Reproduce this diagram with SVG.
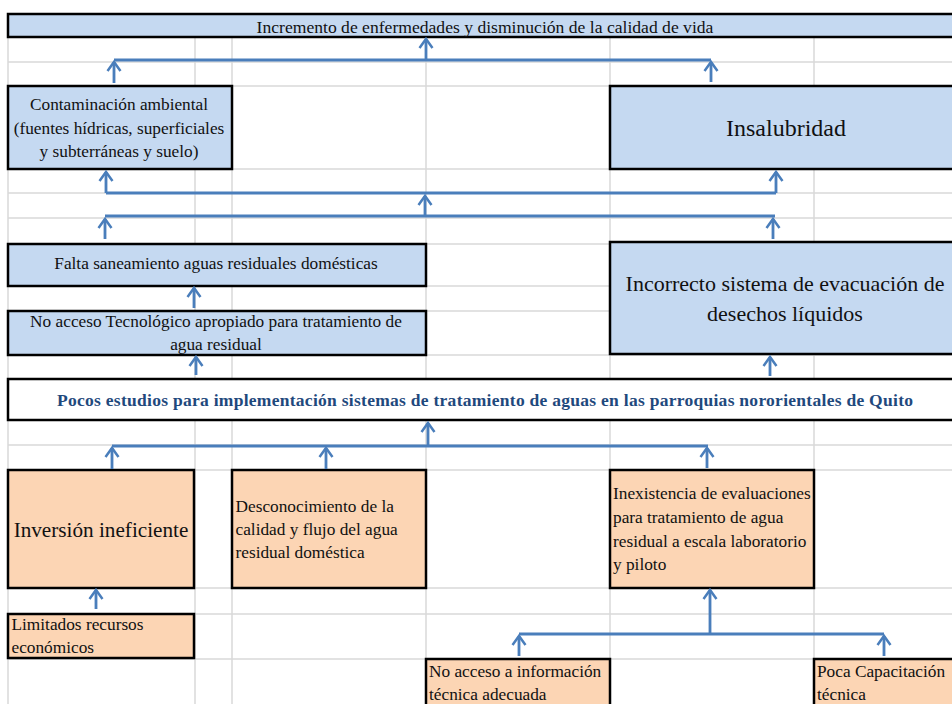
<svg xmlns="http://www.w3.org/2000/svg" width="952" height="704" viewBox="0 0 952 704">
<defs>
<style>
.grid line{stroke:#D9D9D9;stroke-width:1.5}
.blue{fill:#C5D9F1;stroke:#000;stroke-width:2.5}
.peach{fill:#FCD5B4;stroke:#000;stroke-width:2.5}
.white{fill:#FFFFFF;stroke:#000;stroke-width:2.5}
.c{text-anchor:middle}
.t17{font-size:17.3px}
.conn path{fill:none;stroke:#4A7EBB;stroke-width:2.8;marker-end:url(#ah)}
.conn line{stroke:#4A7EBB;stroke-width:2.8}
</style>
<marker id="ah" markerUnits="userSpaceOnUse" markerWidth="24" markerHeight="24" viewBox="-12 -12 24 24" refX="0" refY="0" orient="auto" overflow="visible">
<path d="M-9,-6.5 L0,0 L-9,6.5" fill="none" stroke="#4A7EBB" stroke-width="2.5"/>
</marker>
</defs>
<rect width="952" height="704" fill="#FFFFFF"/>
<g class="grid">
<line x1="8" y1="14" x2="8" y2="704"/>
<line x1="195" y1="14" x2="195" y2="704"/>
<line x1="232" y1="14" x2="232" y2="704"/>
<line x1="426" y1="14" x2="426" y2="704"/>
<line x1="610" y1="14" x2="610" y2="704"/>
<line x1="814" y1="14" x2="814" y2="704"/>
<line x1="8" y1="14" x2="952" y2="14"/>
<line x1="8" y1="37" x2="952" y2="37"/>
<line x1="8" y1="62" x2="952" y2="62"/>
<line x1="8" y1="86" x2="952" y2="86"/>
<line x1="8" y1="169" x2="952" y2="169"/>
<line x1="8" y1="193" x2="952" y2="193"/>
<line x1="8" y1="218" x2="952" y2="218"/>
<line x1="8" y1="244" x2="952" y2="244"/>
<line x1="8" y1="286" x2="952" y2="286"/>
<line x1="8" y1="311" x2="952" y2="311"/>
<line x1="8" y1="355" x2="952" y2="355"/>
<line x1="8" y1="379" x2="952" y2="379"/>
<line x1="8" y1="420" x2="952" y2="420"/>
<line x1="8" y1="445" x2="952" y2="445"/>
<line x1="8" y1="470" x2="952" y2="470"/>
<line x1="8" y1="588" x2="952" y2="588"/>
<line x1="8" y1="614" x2="952" y2="614"/>
<line x1="8" y1="659" x2="952" y2="659"/>
</g>

<g font-family="'Liberation Serif', 'DejaVu Serif', serif" fill="#111111">
<g id="n-incremento">
<rect class="blue" x="8" y="14" width="960" height="23"/>
<text class="c" x="485" y="33" font-size="17.6">Incremento de enfermedades y disminución de la calidad de vida</text>
</g>
<g id="n-contaminacion">
<rect class="blue" x="8" y="86" width="224" height="83"/>
<text class="c t17" x="119" y="110">Contaminación ambiental</text>
<text class="c t17" x="119" y="134">(fuentes hídricas, superficiales</text>
<text class="c t17" x="119" y="157">y subterráneas y suelo)</text>
</g>
<g id="n-insalubridad">
<rect class="blue" x="610" y="86" width="360" height="83"/>
<text class="c" x="786" y="136" font-size="24">Insalubridad</text>
</g>
<g id="n-falta">
<rect class="blue" x="8" y="244" width="418" height="42"/>
<text class="c t17" x="216" y="269">Falta saneamiento aguas residuales domésticas</text>
</g>
<g id="n-noacceso-tec">
<rect class="blue" x="8" y="311" width="418" height="44"/>
<text class="c t17" x="216" y="327">No acceso Tecnológico apropiado para tratamiento de</text>
<text class="c t17" x="216" y="350">agua residual</text>
</g>
<g id="n-incorrecto">
<rect class="blue" x="610" y="242" width="360" height="112"/>
<text class="c" x="785" y="291" font-size="22">Incorrecto sistema de evacuación de</text>
<text class="c" x="785" y="321" font-size="22">desechos líquidos</text>
</g>
<g id="n-pocos">
<rect class="white" x="8" y="379" width="960" height="41"/>
<text x="57" y="406" font-size="17.5" font-weight="bold" fill="#1F497D" textLength="856" lengthAdjust="spacing">Pocos estudios para implementación sistemas de tratamiento de aguas en las parroquias nororientales de Quito</text>
</g>
<g id="n-inversion">
<rect class="peach" x="8" y="470" width="186" height="118"/>
<text class="c" x="101" y="537" font-size="21.2">Inversión ineficiente</text>
</g>
<g id="n-desconocimiento">
<rect class="peach" x="232" y="470" width="194" height="118"/>
<text class="t17" x="235.5" y="512">Desconocimiento de la</text>
<text class="t17" x="235.5" y="535">calidad y flujo del agua</text>
<text class="t17" x="235.5" y="558">residual doméstica</text>
</g>
<g id="n-inexistencia">
<rect class="peach" x="610" y="470" width="204" height="118"/>
<text class="t17" x="613" y="499">Inexistencia de evaluaciones</text>
<text class="t17" x="613" y="523">para tratamiento de agua</text>
<text class="t17" x="613" y="547">residual a escala laboratorio</text>
<text class="t17" x="613" y="570">y piloto</text>
</g>
<g id="n-limitados">
<rect class="peach" x="8" y="614" width="186" height="44"/>
<text class="t17" x="11.5" y="630">Limitados recursos</text>
<text class="t17" x="11.5" y="653">económicos</text>
</g>
<g id="n-noacceso-info">
<rect class="peach" x="426" y="659" width="184" height="60"/>
<text class="t17" x="429" y="677">No acceso a información</text>
<text class="t17" x="429" y="700">técnica adecuada</text>
</g>
<g id="n-poca">
<rect class="peach" x="814" y="659" width="160" height="60"/>
<text class="t17" x="817" y="677">Poca Capacitación</text>
<text class="t17" x="817" y="700">técnica</text>
</g>
</g>

<g id="connectors" class="conn">
<line x1="114" y1="60" x2="711" y2="60"/>
<path d="M426,60 V39"/>
<path d="M114,83 V62"/>
<path d="M711,82 V62"/>

<line x1="106" y1="193" x2="776" y2="193"/>
<path d="M106,193 V172"/>
<path d="M776,193 V172"/>
<path d="M425,216 V196"/>
<line x1="105" y1="216" x2="775" y2="216"/>
<path d="M105,239 V219"/>
<path d="M773,239 V219"/>

<path d="M194,308 V288"/>
<path d="M196,375 V357"/>
<path d="M770,376 V357"/>

<line x1="112" y1="446" x2="708" y2="446"/>
<path d="M428,446 V423"/>
<path d="M112,469 V448"/>
<path d="M326,469 V448"/>
<path d="M707,468 V448"/>

<path d="M96,609 V590"/>

<line x1="519" y1="634" x2="884" y2="634"/>
<path d="M710,634 V590"/>
<path d="M519,656 V636"/>
<path d="M884,656 V636"/>
</g>
</svg>
